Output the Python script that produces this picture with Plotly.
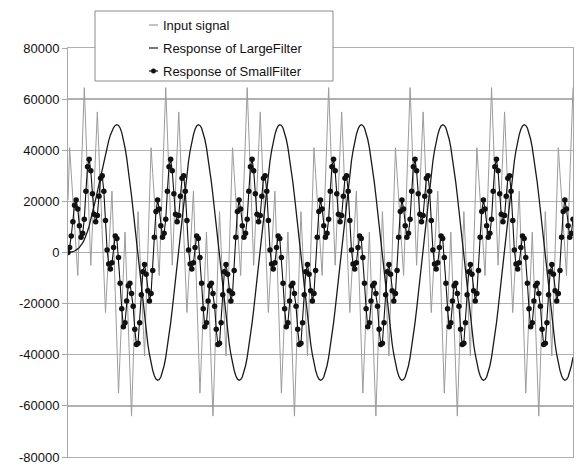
import plotly.graph_objects as go

# ---------------- data ----------------
input_signal = [
    20500, 41000, 31000, 21000, 11000, 1000, -9000, 9400, 27800, 46100, 64500, 47100, 29800, 12400, -5000, 10000, 25000, 40000, 55000, 39300, 23600, 7900, -7800, -23500, -11600, 300, 12100, 24000, 4300, -15500, -35300, -55000, -39300, -23500, -7800, 8000, -10000, -28000, -46000, -64000, -44000, -24000, -4000, 16000, 1900, -12300, -26400, -40500, -20100, 300,
    20500, 41000, 31000, 21000, 11000, 1000, -9000, 9400, 27800, 46100, 64500, 47100, 29800, 12400, -5000, 10000, 25000, 40000, 55000, 39300, 23600, 7900, -7800, -23500, -11600, 300, 12100, 24000, 4300, -15500, -35300, -55000, -39300, -23500, -7800, 8000, -10000, -28000, -46000, -64000, -44000, -24000, -4000, 16000, 1900, -12300, -26400, -40500, -20100, 300,
    20500, 41000, 31000, 21000, 11000, 1000, -9000, 9400, 27800, 46100, 64500, 47100, 29800, 12400, -5000, 10000, 25000, 40000, 55000, 39300, 23600, 7900, -7800, -23500, -11600, 300, 12100, 24000, 4300, -15500, -35300, -55000, -39300, -23500, -7800, 8000, -10000, -28000, -46000, -64000, -44000, -24000, -4000, 16000, 1900, -12300, -26400, -40500, -20100, 300,
    20500, 41000, 31000, 21000, 11000, 1000, -9000, 9400, 27800, 46100, 64500, 47100, 29800, 12400, -5000, 10000, 25000, 40000, 55000, 39300, 23600, 7900, -7800, -23500, -11600, 300, 12100, 24000, 4300, -15500, -35300, -55000, -39300, -23500, -7800, 8000, -10000, -28000, -46000, -64000, -44000, -24000, -4000, 16000, 1900, -12300, -26400, -40500, -20100, 300,
    20500, 41000, 31000, 21000, 11000, 1000, -9000, 9400, 27800, 46100, 64500, 47100, 29800, 12400, -5000, 10000, 25000, 40000, 55000, 39300, 23600, 7900, -7800, -23500, -11600, 300, 12100, 24000, 4300, -15500, -35300, -55000, -39300, -23500, -7800, 8000, -10000, -28000, -46000, -64000, -44000, -24000, -4000, 16000, 1900, -12300, -26400, -40500, -20100, 300,
    20500, 41000, 31000, 21000, 11000, 1000, -9000, 9400, 27800, 46100, 64500, 47100, 29800, 12400, -5000, 10000, 25000, 40000, 55000, 39300, 23600, 7900, -7800, -23500, -11600, 300, 12100, 24000, 4300, -15500, -35300, -55000, -39300, -23500, -7800, 8000, -10000, -28000, -46000, -64000, -44000, -24000, -4000, 16000, 1900, -12300, -26400, -40500, -20100, 300,
    20500, 41000, 31000, 21000, 11000, 1000, -9000, 9400, 27800, 46100, 64500,
]

large_filter = [
    0, 50, 150, 300, 600, 900, 1400, 2000, 2800, 3800, 5000, 6500, 8300, 10400, 12800, 15300, 18000, 20800, 23700, 26700, 29700, 32700, 35700, 38600, 41300, 43800, 45900, 47600, 48900, 49700,
    50000, 49700, 48700, 46900, 44300, 41000, 37100, 32600, 27600, 22200, 16400, 10400, 4100, -2100, -8400, -14500, -20400, -25900, -31100, -35800,
    -39900, -43300, -46100, -48200, -49500, -50000, -49700, -48700, -46900, -44300, -41000, -37100, -32600, -27600, -22200, -16400, -10400, -4100, 2100, 8400, 14500, 20400, 25900, 31100, 35800, 39900, 43300, 46100, 48200, 49500, 50000, 49700, 48700, 46900, 44300, 41000, 37100, 32600, 27600, 22200, 16400, 10400, 4100, -2100, -8400, -14500, -20400, -25900, -31100, -35800,
    -39900, -43300, -46100, -48200, -49500, -50000, -49700, -48700, -46900, -44300, -41000, -37100, -32600, -27600, -22200, -16400, -10400, -4100, 2100, 8400, 14500, 20400, 25900, 31100, 35800, 39900, 43300, 46100, 48200, 49500, 50000, 49700, 48700, 46900, 44300, 41000, 37100, 32600, 27600, 22200, 16400, 10400, 4100, -2100, -8400, -14500, -20400, -25900, -31100, -35800,
    -39900, -43300, -46100, -48200, -49500, -50000, -49700, -48700, -46900, -44300, -41000, -37100, -32600, -27600, -22200, -16400, -10400, -4100, 2100, 8400, 14500, 20400, 25900, 31100, 35800, 39900, 43300, 46100, 48200, 49500, 50000, 49700, 48700, 46900, 44300, 41000, 37100, 32600, 27600, 22200, 16400, 10400, 4100, -2100, -8400, -14500, -20400, -25900, -31100, -35800,
    -39900, -43300, -46100, -48200, -49500, -50000, -49700, -48700, -46900, -44300, -41000, -37100, -32600, -27600, -22200, -16400, -10400, -4100, 2100, 8400, 14500, 20400, 25900, 31100, 35800, 39900, 43300, 46100, 48200, 49500, 50000, 49700, 48700, 46900, 44300, 41000, 37100, 32600, 27600, 22200, 16400, 10400, 4100, -2100, -8400, -14500, -20400, -25900, -31100, -35800,
    -39900, -43300, -46100, -48200, -49500, -50000, -49700, -48700, -46900, -44300, -41000, -37100, -32600, -27600, -22200, -16400, -10400, -4100, 2100, 8400, 14500, 20400, 25900, 31100, 35800, 39900, 43300, 46100, 48200, 49500, 50000, 49700, 48700, 46900, 44300, 41000, 37100, 32600, 27600, 22200, 16400, 10400, 4100, -2100, -8400, -14500, -20400, -25900, -31100, -35800,
    -39900, -43300, -46100, -48200, -49500, -50000, -49700, -48700, -46900, -44300, -41000,
]

small_filter = [
    0, 2000, 6500, 12000, 18500, 20500, 17000, 10500, 6000, 7500, 13000, 24000, 33500, 36500, 32000, 23000, 15000, 12000, 14500, 22000, 29000, 30000, 24000, 12500, 1000, -4500, -6500, -4000, 2000, 6500, 5500, -2000, -12000, -22000, -29000, -27500, -19000, -13000, -12000, -16000, -21000, -30000, -36000, -35500, -27500, -16500, -7500, -4700, -8500, -15000,
    -19000, -16000, -7000, 6000, 16000, 20500, 17000, 10500, 6000, 7500, 13000, 24000, 33500, 36500, 32000, 23000, 15000, 12000, 14500, 22000, 29000, 30000, 24000, 12500, 1000, -4500, -6500, -4000, 2000, 6500, 5500, -2000, -12000, -22000, -29000, -27500, -19000, -13000, -12000, -16000, -21000, -30000, -36000, -35500, -27500, -16500, -7500, -4700, -8500, -15000,
    -19000, -16000, -7000, 6000, 16000, 20500, 17000, 10500, 6000, 7500, 13000, 24000, 33500, 36500, 32000, 23000, 15000, 12000, 14500, 22000, 29000, 30000, 24000, 12500, 1000, -4500, -6500, -4000, 2000, 6500, 5500, -2000, -12000, -22000, -29000, -27500, -19000, -13000, -12000, -16000, -21000, -30000, -36000, -35500, -27500, -16500, -7500, -4700, -8500, -15000,
    -19000, -16000, -7000, 6000, 16000, 20500, 17000, 10500, 6000, 7500, 13000, 24000, 33500, 36500, 32000, 23000, 15000, 12000, 14500, 22000, 29000, 30000, 24000, 12500, 1000, -4500, -6500, -4000, 2000, 6500, 5500, -2000, -12000, -22000, -29000, -27500, -19000, -13000, -12000, -16000, -21000, -30000, -36000, -35500, -27500, -16500, -7500, -4700, -8500, -15000,
    -19000, -16000, -7000, 6000, 16000, 20500, 17000, 10500, 6000, 7500, 13000, 24000, 33500, 36500, 32000, 23000, 15000, 12000, 14500, 22000, 29000, 30000, 24000, 12500, 1000, -4500, -6500, -4000, 2000, 6500, 5500, -2000, -12000, -22000, -29000, -27500, -19000, -13000, -12000, -16000, -21000, -30000, -36000, -35500, -27500, -16500, -7500, -4700, -8500, -15000,
    -19000, -16000, -7000, 6000, 16000, 20500, 17000, 10500, 6000, 7500, 13000, 24000, 33500, 36500, 32000, 23000, 15000, 12000, 14500, 22000, 29000, 30000, 24000, 12500, 1000, -4500, -6500, -4000, 2000, 6500, 5500, -2000, -12000, -22000, -29000, -27500, -19000, -13000, -12000, -16000, -21000, -30000, -36000, -35500, -27500, -16500, -7500, -4700, -8500, -15000,
    -19000, -16000, -7000, 6000, 16000, 20500, 17000, 10500, 6000, 7500, 13000,
]

tick_values = [80000, 60000, 40000, 20000, 0, -20000, -40000, -60000, -80000]
tick_labels = ["80000", "60000", "40000", "20000", "0", "-20000", "-40000", "-60000", "-80000"]

series_names = ["Input signal", "Response of LargeFilter", "Response of SmallFilter"]

# ---------------- figure ----------------
W, H = 577, 469
ML, MR, MT, MB = 68, 4, 48, 12
PW, PH = W - ML - MR, H - MT - MB
FONT = "Liberation Sans, Arial, sans-serif"

fig = go.Figure()
fig.add_trace(go.Scatter(x=list(range(len(input_signal))), y=input_signal, mode="lines",
                         line=dict(color="#9c9c9c", width=1), name=series_names[0]))
fig.add_trace(go.Scatter(x=list(range(len(large_filter))), y=large_filter, mode="lines",
                         line=dict(color="#1a1a1a", width=1.3), name=series_names[1]))
fig.add_trace(go.Scatter(x=list(range(len(small_filter))), y=small_filter, mode="lines+markers",
                         line=dict(color="#111111", width=1.1),
                         marker=dict(color="#111111", size=5.5), name=series_names[2]))

n_last = max(len(input_signal), len(large_filter), len(small_filter)) - 1


def px(xp):
    return (xp - ML) / PW


def py(yp):
    return (H - MB - yp) / PH


shapes = []
annotations = []
# legend box
shapes.append(dict(type="rect", xref="paper", yref="paper", layer="above",
                   x0=px(95), x1=px(333), y0=py(81), y1=py(11),
                   line=dict(color="#8a8a8a", width=1), fillcolor="white"))
rows = [25, 48, 71]
colors = ["#9c9c9c", "#1a1a1a", "#111111"]
for i, (r, c) in enumerate(zip(rows, colors)):
    shapes.append(dict(type="line", xref="paper", yref="paper", layer="above",
                       x0=px(149), x1=px(158), y0=py(r), y1=py(r),
                       line=dict(color=c, width=1.2)))
    annotations.append(dict(xref="paper", yref="paper", x=px(161), y=py(r),
                            xanchor="left", yanchor="middle", showarrow=False,
                            text=series_names[i],
                            font=dict(family=FONT, size=13, color="#111111")))
shapes.append(dict(type="circle", xref="paper", yref="paper", layer="above",
                   x0=px(151.2), x1=px(155.8), y0=py(73.3), y1=py(68.7),
                   line=dict(color="#111111", width=0.5), fillcolor="#111111"))

fig.update_layout(
    width=W, height=H,
    margin=dict(l=ML, r=MR, t=MT, b=MB),
    paper_bgcolor="white", plot_bgcolor="white",
    showlegend=False, hovermode=False,
    font=dict(family=FONT, size=13, color="#111111"),
    xaxis=dict(range=[0, n_last], showgrid=False, zeroline=False, showticklabels=False,
               ticks="", showline=True, mirror=True, linecolor="#b0b0b0", linewidth=1),
    yaxis=dict(range=[-80000, 80000], tickvals=tick_values, ticktext=tick_labels,
               showgrid=True, gridcolor="#b0b0b0", gridwidth=1.3, zeroline=False,
               ticks="outside", ticklen=5, tickcolor="#a8a8a8",
               showline=True, mirror=True, linecolor="#a8a8a8", linewidth=1,
               tickfont=dict(family=FONT, size=13, color="#111111")),
    shapes=shapes, annotations=annotations,
)

fig.write_html("out.html", config={"displayModeBar": False, "staticPlot": True},
               post_script="document.body.style.margin='0';document.body.style.overflow='hidden';")
